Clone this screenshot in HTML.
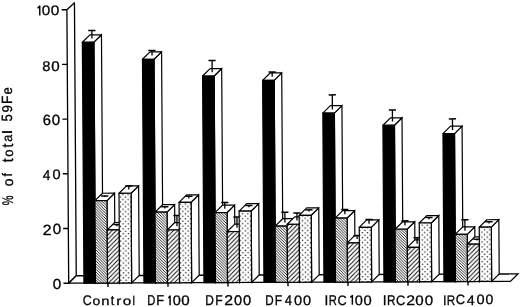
<!DOCTYPE html>
<html><head><meta charset="utf-8"><style>
html,body{margin:0;padding:0;background:#fff;width:520px;height:307px;overflow:hidden}
svg{display:block}
text{font-family:"Liberation Sans",sans-serif;fill:#000;text-rendering:geometricPrecision}
</style></head><body>
<svg width="520" height="307" viewBox="0 0 520 307">
<defs>
<pattern id="dense" patternUnits="userSpaceOnUse" width="2.75" height="2.75">
<rect width="2.75" height="2.75" fill="#fff"/>
<path d="M-1,1.75 L1,3.75 M0,0 L2.75,2.75 M1.75,-1 L3.75,1" stroke="#000" stroke-width="0.85"/>
</pattern>
<pattern id="sparse" patternUnits="userSpaceOnUse" width="4.4" height="4.4">
<rect width="4.4" height="4.4" fill="#fff"/>
<path d="M-1,1 L1,-1 M0,4.4 L4.4,0 M3.4,5.4 L5.4,3.4" stroke="#000" stroke-width="0.9"/>
</pattern>
<pattern id="dots" patternUnits="userSpaceOnUse" width="5.2" height="4.9">
<rect width="5.2" height="4.9" fill="#fff"/>
<circle cx="1.3" cy="1.2" r="0.78" fill="#222"/>
<circle cx="3.9" cy="3.65" r="0.78" fill="#222"/>
</pattern>
</defs>
<g transform="matrix(1,-0.00420,0.00660,1,-1.8691,0.2885)">
<polygon points="68.7,283.2 68.7,9.7 76.3,2.7 76.3,275.8" fill="#fff" stroke="#000" stroke-width="1.3" stroke-linejoin="round"/>
<polygon points="68.7,283.2 510.4,283.2 518,275.8 76.3,275.8" fill="#fff" stroke="#000" stroke-width="1.3" stroke-linejoin="miter"/>
<line x1="63.5" y1="283.2" x2="68.7" y2="283.2" stroke="#000" stroke-width="1.4"/>
<line x1="63.5" y1="228.5" x2="68.7" y2="228.5" stroke="#000" stroke-width="1.4"/>
<line x1="63.5" y1="173.8" x2="68.7" y2="173.8" stroke="#000" stroke-width="1.4"/>
<line x1="63.5" y1="119.1" x2="68.7" y2="119.1" stroke="#000" stroke-width="1.4"/>
<line x1="63.5" y1="64.4" x2="68.7" y2="64.4" stroke="#000" stroke-width="1.4"/>
<line x1="63.5" y1="9.7" x2="68.7" y2="9.7" stroke="#000" stroke-width="1.4"/>
<line x1="108" y1="283.2" x2="108" y2="287.1" stroke="#000" stroke-width="1.4"/>
<line x1="168" y1="283.2" x2="168" y2="287.1" stroke="#000" stroke-width="1.4"/>
<line x1="228" y1="283.2" x2="228" y2="287.1" stroke="#000" stroke-width="1.4"/>
<line x1="288" y1="283.2" x2="288" y2="287.1" stroke="#000" stroke-width="1.4"/>
<line x1="348" y1="283.2" x2="348" y2="287.1" stroke="#000" stroke-width="1.4"/>
<line x1="408" y1="283.2" x2="408" y2="287.1" stroke="#000" stroke-width="1.4"/>
<line x1="468" y1="283.2" x2="468" y2="287.1" stroke="#000" stroke-width="1.4"/>
<polygon points="95.5,283.2 95.5,42.3 103.1,34.9 103.1,275.8" fill="#fff" stroke="#000" stroke-width="1.2" stroke-linejoin="miter"/>
<polygon points="83.95,42.3 95.5,42.3 103.1,34.9 91.55,34.9" fill="#fff" stroke="#000" stroke-width="1.2" stroke-linejoin="round"/>
<polygon points="83.95,283.2 83.95,42.3 95.5,42.3 95.5,283.2" fill="#000" stroke="#000" stroke-width="1.2" stroke-linejoin="miter"/>
<line x1="93.52" y1="38.6" x2="93.52" y2="30.5" stroke="#000" stroke-width="1.3"/>
<line x1="89.92" y1="30.5" x2="97.12" y2="30.5" stroke="#000" stroke-width="1.5"/>
<polygon points="107.55,283.2 107.55,200.8 115.15,193.4 115.15,275.8" fill="#fff" stroke="#000" stroke-width="1.2" stroke-linejoin="miter"/>
<polygon points="95.5,200.8 107.55,200.8 115.15,193.4 103.1,193.4" fill="#fff" stroke="#000" stroke-width="1.2" stroke-linejoin="round"/>
<polygon points="95.5,283.2 95.5,200.8 107.55,200.8 107.55,283.2" fill="url(#dense)" stroke="#000" stroke-width="1.2" stroke-linejoin="miter"/>
<line x1="105.33" y1="197.1" x2="105.33" y2="196.2" stroke="#000" stroke-width="1.3"/>
<line x1="101.73" y1="196.2" x2="108.92" y2="196.2" stroke="#000" stroke-width="1.5"/>
<polygon points="119.6,283.2 119.6,230.1 127.2,222.7 127.2,275.8" fill="#fff" stroke="#000" stroke-width="1.2" stroke-linejoin="miter"/>
<polygon points="107.55,230.1 119.6,230.1 127.2,222.7 115.15,222.7" fill="#fff" stroke="#000" stroke-width="1.2" stroke-linejoin="round"/>
<polygon points="107.55,283.2 107.55,230.1 119.6,230.1 119.6,283.2" fill="url(#sparse)" stroke="#000" stroke-width="1.2" stroke-linejoin="miter"/>
<line x1="117.38" y1="226.4" x2="117.38" y2="224.7" stroke="#000" stroke-width="1.3"/>
<line x1="113.78" y1="224.7" x2="120.98" y2="224.7" stroke="#000" stroke-width="1.5"/>
<polygon points="131.65,283.2 131.65,193.5 139.25,186.1 139.25,275.8" fill="#fff" stroke="#000" stroke-width="1.2" stroke-linejoin="miter"/>
<polygon points="119.6,193.5 131.65,193.5 139.25,186.1 127.2,186.1" fill="#fff" stroke="#000" stroke-width="1.2" stroke-linejoin="round"/>
<polygon points="119.6,283.2 119.6,193.5 131.65,193.5 131.65,283.2" fill="url(#dots)" stroke="#000" stroke-width="1.2" stroke-linejoin="miter"/>
<line x1="129.43" y1="189.8" x2="129.43" y2="186.3" stroke="#000" stroke-width="1.3"/>
<line x1="125.83" y1="186.3" x2="133.03" y2="186.3" stroke="#000" stroke-width="1.5"/>
<polygon points="155.5,283.2 155.5,59.6 163.1,52.2 163.1,275.8" fill="#fff" stroke="#000" stroke-width="1.2" stroke-linejoin="miter"/>
<polygon points="143.95,59.6 155.5,59.6 163.1,52.2 151.55,52.2" fill="#fff" stroke="#000" stroke-width="1.2" stroke-linejoin="round"/>
<polygon points="143.95,283.2 143.95,59.6 155.5,59.6 155.5,283.2" fill="#000" stroke="#000" stroke-width="1.2" stroke-linejoin="miter"/>
<line x1="153.53" y1="55.9" x2="153.53" y2="50.9" stroke="#000" stroke-width="1.3"/>
<line x1="149.93" y1="50.9" x2="157.12" y2="50.9" stroke="#000" stroke-width="1.5"/>
<polygon points="167.55,283.2 167.55,212.5 175.15,205.1 175.15,275.8" fill="#fff" stroke="#000" stroke-width="1.2" stroke-linejoin="miter"/>
<polygon points="155.5,212.5 167.55,212.5 175.15,205.1 163.1,205.1" fill="#fff" stroke="#000" stroke-width="1.2" stroke-linejoin="round"/>
<polygon points="155.5,283.2 155.5,212.5 167.55,212.5 167.55,283.2" fill="url(#dense)" stroke="#000" stroke-width="1.2" stroke-linejoin="miter"/>
<line x1="165.32" y1="208.8" x2="165.32" y2="207.1" stroke="#000" stroke-width="1.3"/>
<line x1="161.72" y1="207.1" x2="168.92" y2="207.1" stroke="#000" stroke-width="1.5"/>
<polygon points="179.6,283.2 179.6,230.4 187.2,223 187.2,275.8" fill="#fff" stroke="#000" stroke-width="1.2" stroke-linejoin="miter"/>
<polygon points="167.55,230.4 179.6,230.4 187.2,223 175.15,223" fill="#fff" stroke="#000" stroke-width="1.2" stroke-linejoin="round"/>
<polygon points="167.55,283.2 167.55,230.4 179.6,230.4 179.6,283.2" fill="url(#sparse)" stroke="#000" stroke-width="1.2" stroke-linejoin="miter"/>
<line x1="177.38" y1="226.7" x2="177.38" y2="215.9" stroke="#000" stroke-width="1.3"/>
<line x1="173.78" y1="215.9" x2="180.97" y2="215.9" stroke="#000" stroke-width="1.5"/>
<polygon points="191.65,283.2 191.65,202.8 199.25,195.4 199.25,275.8" fill="#fff" stroke="#000" stroke-width="1.2" stroke-linejoin="miter"/>
<polygon points="179.6,202.8 191.65,202.8 199.25,195.4 187.2,195.4" fill="#fff" stroke="#000" stroke-width="1.2" stroke-linejoin="round"/>
<polygon points="179.6,283.2 179.6,202.8 191.65,202.8 191.65,283.2" fill="url(#dots)" stroke="#000" stroke-width="1.2" stroke-linejoin="miter"/>
<line x1="189.43" y1="199.1" x2="189.43" y2="196.8" stroke="#000" stroke-width="1.3"/>
<line x1="185.83" y1="196.8" x2="193.03" y2="196.8" stroke="#000" stroke-width="1.5"/>
<polygon points="215.5,283.2 215.5,76.6 223.1,69.2 223.1,275.8" fill="#fff" stroke="#000" stroke-width="1.2" stroke-linejoin="miter"/>
<polygon points="203.95,76.6 215.5,76.6 223.1,69.2 211.55,69.2" fill="#fff" stroke="#000" stroke-width="1.2" stroke-linejoin="round"/>
<polygon points="203.95,283.2 203.95,76.6 215.5,76.6 215.5,283.2" fill="#000" stroke="#000" stroke-width="1.2" stroke-linejoin="miter"/>
<line x1="213.53" y1="72.9" x2="213.53" y2="61" stroke="#000" stroke-width="1.3"/>
<line x1="209.93" y1="61" x2="217.12" y2="61" stroke="#000" stroke-width="1.5"/>
<polygon points="227.55,283.2 227.55,213.2 235.15,205.8 235.15,275.8" fill="#fff" stroke="#000" stroke-width="1.2" stroke-linejoin="miter"/>
<polygon points="215.5,213.2 227.55,213.2 235.15,205.8 223.1,205.8" fill="#fff" stroke="#000" stroke-width="1.2" stroke-linejoin="round"/>
<polygon points="215.5,283.2 215.5,213.2 227.55,213.2 227.55,283.2" fill="url(#dense)" stroke="#000" stroke-width="1.2" stroke-linejoin="miter"/>
<line x1="225.32" y1="209.5" x2="225.32" y2="203.1" stroke="#000" stroke-width="1.3"/>
<line x1="221.72" y1="203.1" x2="228.92" y2="203.1" stroke="#000" stroke-width="1.5"/>
<polygon points="239.6,283.2 239.6,232.2 247.2,224.8 247.2,275.8" fill="#fff" stroke="#000" stroke-width="1.2" stroke-linejoin="miter"/>
<polygon points="227.55,232.2 239.6,232.2 247.2,224.8 235.15,224.8" fill="#fff" stroke="#000" stroke-width="1.2" stroke-linejoin="round"/>
<polygon points="227.55,283.2 227.55,232.2 239.6,232.2 239.6,283.2" fill="url(#sparse)" stroke="#000" stroke-width="1.2" stroke-linejoin="miter"/>
<line x1="237.38" y1="228.5" x2="237.38" y2="217.7" stroke="#000" stroke-width="1.3"/>
<line x1="233.78" y1="217.7" x2="240.97" y2="217.7" stroke="#000" stroke-width="1.5"/>
<polygon points="251.65,283.2 251.65,211.8 259.25,204.4 259.25,275.8" fill="#fff" stroke="#000" stroke-width="1.2" stroke-linejoin="miter"/>
<polygon points="239.6,211.8 251.65,211.8 259.25,204.4 247.2,204.4" fill="#fff" stroke="#000" stroke-width="1.2" stroke-linejoin="round"/>
<polygon points="239.6,283.2 239.6,211.8 251.65,211.8 251.65,283.2" fill="url(#dots)" stroke="#000" stroke-width="1.2" stroke-linejoin="miter"/>
<line x1="249.43" y1="208.1" x2="249.43" y2="206.3" stroke="#000" stroke-width="1.3"/>
<line x1="245.83" y1="206.3" x2="253.03" y2="206.3" stroke="#000" stroke-width="1.5"/>
<polygon points="275.5,283.2 275.5,81.2 283.1,73.8 283.1,275.8" fill="#fff" stroke="#000" stroke-width="1.2" stroke-linejoin="miter"/>
<polygon points="263.95,81.2 275.5,81.2 283.1,73.8 271.55,73.8" fill="#fff" stroke="#000" stroke-width="1.2" stroke-linejoin="round"/>
<polygon points="263.95,283.2 263.95,81.2 275.5,81.2 275.5,283.2" fill="#000" stroke="#000" stroke-width="1.2" stroke-linejoin="miter"/>
<line x1="273.53" y1="77.5" x2="273.53" y2="72.9" stroke="#000" stroke-width="1.3"/>
<line x1="269.93" y1="72.9" x2="277.13" y2="72.9" stroke="#000" stroke-width="1.5"/>
<polygon points="287.55,283.2 287.55,227 295.15,219.6 295.15,275.8" fill="#fff" stroke="#000" stroke-width="1.2" stroke-linejoin="miter"/>
<polygon points="275.5,227 287.55,227 295.15,219.6 283.1,219.6" fill="#fff" stroke="#000" stroke-width="1.2" stroke-linejoin="round"/>
<polygon points="275.5,283.2 275.5,227 287.55,227 287.55,283.2" fill="url(#dense)" stroke="#000" stroke-width="1.2" stroke-linejoin="miter"/>
<line x1="285.32" y1="223.3" x2="285.32" y2="213.2" stroke="#000" stroke-width="1.3"/>
<line x1="281.72" y1="213.2" x2="288.93" y2="213.2" stroke="#000" stroke-width="1.5"/>
<polygon points="299.6,283.2 299.6,225.2 307.2,217.8 307.2,275.8" fill="#fff" stroke="#000" stroke-width="1.2" stroke-linejoin="miter"/>
<polygon points="287.55,225.2 299.6,225.2 307.2,217.8 295.15,217.8" fill="#fff" stroke="#000" stroke-width="1.2" stroke-linejoin="round"/>
<polygon points="287.55,283.2 287.55,225.2 299.6,225.2 299.6,283.2" fill="url(#sparse)" stroke="#000" stroke-width="1.2" stroke-linejoin="miter"/>
<line x1="297.38" y1="221.5" x2="297.38" y2="213.9" stroke="#000" stroke-width="1.3"/>
<line x1="293.78" y1="213.9" x2="300.98" y2="213.9" stroke="#000" stroke-width="1.5"/>
<polygon points="311.65,283.2 311.65,216.3 319.25,208.9 319.25,275.8" fill="#fff" stroke="#000" stroke-width="1.2" stroke-linejoin="miter"/>
<polygon points="299.6,216.3 311.65,216.3 319.25,208.9 307.2,208.9" fill="#fff" stroke="#000" stroke-width="1.2" stroke-linejoin="round"/>
<polygon points="299.6,283.2 299.6,216.3 311.65,216.3 311.65,283.2" fill="url(#dots)" stroke="#000" stroke-width="1.2" stroke-linejoin="miter"/>
<line x1="309.43" y1="212.6" x2="309.43" y2="210.9" stroke="#000" stroke-width="1.3"/>
<line x1="305.82" y1="210.9" x2="313.03" y2="210.9" stroke="#000" stroke-width="1.5"/>
<polygon points="335.5,283.2 335.5,114.2 343.1,106.8 343.1,275.8" fill="#fff" stroke="#000" stroke-width="1.2" stroke-linejoin="miter"/>
<polygon points="323.95,114.2 335.5,114.2 343.1,106.8 331.55,106.8" fill="#fff" stroke="#000" stroke-width="1.2" stroke-linejoin="round"/>
<polygon points="323.95,283.2 323.95,114.2 335.5,114.2 335.5,283.2" fill="#000" stroke="#000" stroke-width="1.2" stroke-linejoin="miter"/>
<line x1="333.53" y1="110.5" x2="333.53" y2="96" stroke="#000" stroke-width="1.3"/>
<line x1="329.93" y1="96" x2="337.13" y2="96" stroke="#000" stroke-width="1.5"/>
<polygon points="347.55,283.2 347.55,219.2 355.15,211.8 355.15,275.8" fill="#fff" stroke="#000" stroke-width="1.2" stroke-linejoin="miter"/>
<polygon points="335.5,219.2 347.55,219.2 355.15,211.8 343.1,211.8" fill="#fff" stroke="#000" stroke-width="1.2" stroke-linejoin="round"/>
<polygon points="335.5,283.2 335.5,219.2 347.55,219.2 347.55,283.2" fill="url(#dense)" stroke="#000" stroke-width="1.2" stroke-linejoin="miter"/>
<line x1="345.32" y1="215.5" x2="345.32" y2="210.6" stroke="#000" stroke-width="1.3"/>
<line x1="341.72" y1="210.6" x2="348.93" y2="210.6" stroke="#000" stroke-width="1.5"/>
<polygon points="359.6,283.2 359.6,244 367.2,236.6 367.2,275.8" fill="#fff" stroke="#000" stroke-width="1.2" stroke-linejoin="miter"/>
<polygon points="347.55,244 359.6,244 367.2,236.6 355.15,236.6" fill="#fff" stroke="#000" stroke-width="1.2" stroke-linejoin="round"/>
<polygon points="347.55,283.2 347.55,244 359.6,244 359.6,283.2" fill="url(#sparse)" stroke="#000" stroke-width="1.2" stroke-linejoin="miter"/>
<line x1="357.38" y1="240.3" x2="357.38" y2="236.9" stroke="#000" stroke-width="1.3"/>
<line x1="353.78" y1="236.9" x2="360.98" y2="236.9" stroke="#000" stroke-width="1.5"/>
<polygon points="371.65,283.2 371.65,228.6 379.25,221.2 379.25,275.8" fill="#fff" stroke="#000" stroke-width="1.2" stroke-linejoin="miter"/>
<polygon points="359.6,228.6 371.65,228.6 379.25,221.2 367.2,221.2" fill="#fff" stroke="#000" stroke-width="1.2" stroke-linejoin="round"/>
<polygon points="359.6,283.2 359.6,228.6 371.65,228.6 371.65,283.2" fill="url(#dots)" stroke="#000" stroke-width="1.2" stroke-linejoin="miter"/>
<line x1="369.43" y1="224.9" x2="369.43" y2="220.7" stroke="#000" stroke-width="1.3"/>
<line x1="365.82" y1="220.7" x2="373.03" y2="220.7" stroke="#000" stroke-width="1.5"/>
<polygon points="395.5,283.2 395.5,126.6 403.1,119.2 403.1,275.8" fill="#fff" stroke="#000" stroke-width="1.2" stroke-linejoin="miter"/>
<polygon points="383.95,126.6 395.5,126.6 403.1,119.2 391.55,119.2" fill="#fff" stroke="#000" stroke-width="1.2" stroke-linejoin="round"/>
<polygon points="383.95,283.2 383.95,126.6 395.5,126.6 395.5,283.2" fill="#000" stroke="#000" stroke-width="1.2" stroke-linejoin="miter"/>
<line x1="393.53" y1="122.9" x2="393.53" y2="111.3" stroke="#000" stroke-width="1.3"/>
<line x1="389.93" y1="111.3" x2="397.13" y2="111.3" stroke="#000" stroke-width="1.5"/>
<polygon points="407.55,283.2 407.55,230.6 415.15,223.2 415.15,275.8" fill="#fff" stroke="#000" stroke-width="1.2" stroke-linejoin="miter"/>
<polygon points="395.5,230.6 407.55,230.6 415.15,223.2 403.1,223.2" fill="#fff" stroke="#000" stroke-width="1.2" stroke-linejoin="round"/>
<polygon points="395.5,283.2 395.5,230.6 407.55,230.6 407.55,283.2" fill="url(#dense)" stroke="#000" stroke-width="1.2" stroke-linejoin="miter"/>
<line x1="405.32" y1="226.9" x2="405.32" y2="222.3" stroke="#000" stroke-width="1.3"/>
<line x1="401.72" y1="222.3" x2="408.93" y2="222.3" stroke="#000" stroke-width="1.5"/>
<polygon points="419.6,283.2 419.6,248.8 427.2,241.4 427.2,275.8" fill="#fff" stroke="#000" stroke-width="1.2" stroke-linejoin="miter"/>
<polygon points="407.55,248.8 419.6,248.8 427.2,241.4 415.15,241.4" fill="#fff" stroke="#000" stroke-width="1.2" stroke-linejoin="round"/>
<polygon points="407.55,283.2 407.55,248.8 419.6,248.8 419.6,283.2" fill="url(#sparse)" stroke="#000" stroke-width="1.2" stroke-linejoin="miter"/>
<line x1="417.38" y1="245.1" x2="417.38" y2="239.3" stroke="#000" stroke-width="1.3"/>
<line x1="413.78" y1="239.3" x2="420.98" y2="239.3" stroke="#000" stroke-width="1.5"/>
<polygon points="431.65,283.2 431.65,224.5 439.25,217.1 439.25,275.8" fill="#fff" stroke="#000" stroke-width="1.2" stroke-linejoin="miter"/>
<polygon points="419.6,224.5 431.65,224.5 439.25,217.1 427.2,217.1" fill="#fff" stroke="#000" stroke-width="1.2" stroke-linejoin="round"/>
<polygon points="419.6,283.2 419.6,224.5 431.65,224.5 431.65,283.2" fill="url(#dots)" stroke="#000" stroke-width="1.2" stroke-linejoin="miter"/>
<line x1="429.43" y1="220.8" x2="429.43" y2="219.1" stroke="#000" stroke-width="1.3"/>
<line x1="425.82" y1="219.1" x2="433.03" y2="219.1" stroke="#000" stroke-width="1.5"/>
<polygon points="455.5,283.2 455.5,135.2 463.1,127.8 463.1,275.8" fill="#fff" stroke="#000" stroke-width="1.2" stroke-linejoin="miter"/>
<polygon points="443.95,135.2 455.5,135.2 463.1,127.8 451.55,127.8" fill="#fff" stroke="#000" stroke-width="1.2" stroke-linejoin="round"/>
<polygon points="443.95,283.2 443.95,135.2 455.5,135.2 455.5,283.2" fill="#000" stroke="#000" stroke-width="1.2" stroke-linejoin="miter"/>
<line x1="453.53" y1="131.5" x2="453.53" y2="120.5" stroke="#000" stroke-width="1.3"/>
<line x1="449.93" y1="120.5" x2="457.13" y2="120.5" stroke="#000" stroke-width="1.5"/>
<polygon points="467.55,283.2 467.55,236 475.15,228.6 475.15,275.8" fill="#fff" stroke="#000" stroke-width="1.2" stroke-linejoin="miter"/>
<polygon points="455.5,236 467.55,236 475.15,228.6 463.1,228.6" fill="#fff" stroke="#000" stroke-width="1.2" stroke-linejoin="round"/>
<polygon points="455.5,283.2 455.5,236 467.55,236 467.55,283.2" fill="url(#dense)" stroke="#000" stroke-width="1.2" stroke-linejoin="miter"/>
<line x1="465.32" y1="232.3" x2="465.32" y2="221.4" stroke="#000" stroke-width="1.3"/>
<line x1="461.72" y1="221.4" x2="468.93" y2="221.4" stroke="#000" stroke-width="1.5"/>
<polygon points="479.6,283.2 479.6,245.9 487.2,238.5 487.2,275.8" fill="#fff" stroke="#000" stroke-width="1.2" stroke-linejoin="miter"/>
<polygon points="467.55,245.9 479.6,245.9 487.2,238.5 475.15,238.5" fill="#fff" stroke="#000" stroke-width="1.2" stroke-linejoin="round"/>
<polygon points="467.55,283.2 467.55,245.9 479.6,245.9 479.6,283.2" fill="url(#sparse)" stroke="#000" stroke-width="1.2" stroke-linejoin="miter"/>
<line x1="477.38" y1="242.2" x2="477.38" y2="240.9" stroke="#000" stroke-width="1.3"/>
<line x1="473.78" y1="240.9" x2="480.98" y2="240.9" stroke="#000" stroke-width="1.5"/>
<polygon points="491.65,283.2 491.65,228.9 499.25,221.5 499.25,275.8" fill="#fff" stroke="#000" stroke-width="1.2" stroke-linejoin="miter"/>
<polygon points="479.6,228.9 491.65,228.9 499.25,221.5 487.2,221.5" fill="#fff" stroke="#000" stroke-width="1.2" stroke-linejoin="round"/>
<polygon points="479.6,283.2 479.6,228.9 491.65,228.9 491.65,283.2" fill="url(#dots)" stroke="#000" stroke-width="1.2" stroke-linejoin="miter"/>
<line x1="489.43" y1="225.2" x2="489.43" y2="223.6" stroke="#000" stroke-width="1.3"/>
<line x1="485.82" y1="223.6" x2="493.03" y2="223.6" stroke="#000" stroke-width="1.5"/>
</g>
<g style="opacity:0.999" stroke="#000" stroke-width="2.2" stroke-linejoin="round">
<path d="M39.77,5.60 V15.40 M40.07,5.90 L37.60,8.20" fill="none" stroke="#000" stroke-width="1.45" stroke-linecap="butt"/>
<text transform="matrix(0.15158,0,0,0.13803,41.644,15.262)" font-size="100">0</text>
<text transform="matrix(0.15368,0,0,0.13803,50.735,15.262)" font-size="100">0</text>
<text transform="matrix(0.14681,0,0,0.14085,42.189,70.559)" font-size="100">8</text>
<text transform="matrix(0.15158,0,0,0.14085,51.344,70.559)" font-size="100">0</text>
<text transform="matrix(0.14783,0,0,0.14648,42.711,125.354)" font-size="100">6</text>
<text transform="matrix(0.15158,0,0,0.14648,51.644,125.354)" font-size="100">0</text>
<text transform="matrix(0.13800,0,0,0.14203,42.805,179.500)" font-size="100">4</text>
<text transform="matrix(0.14526,0,0,0.13803,52.469,179.362)" font-size="100">0</text>
<text transform="matrix(0.15824,0,0,0.14857,42.859,234.500)" font-size="100">2</text>
<text transform="matrix(0.15158,0,0,0.14648,52.744,234.354)" font-size="100">0</text>
<text transform="matrix(0.15368,0,0,0.14507,52.835,289.055)" font-size="100">0</text>
<text transform="matrix(0.12381,0,0,0.14085,82.731,305.459)" font-size="100">C</text>
<text transform="matrix(0.13895,0,0,0.12182,92.594,305.478)" font-size="100">o</text>
<text transform="matrix(0.14824,0,0,0.12037,101.286,305.300)" font-size="100">n</text>
<text transform="matrix(0.12549,0,0,0.13740,110.662,305.463)" font-size="100">t</text>
<text transform="matrix(0.15200,0,0,0.12037,116.162,305.300)" font-size="100">r</text>
<text transform="matrix(0.15368,0,0,0.12182,122.735,305.478)" font-size="100">o</text>
<text transform="matrix(0.11111,0,0,0.12690,132.528,305.300)" font-size="100">l</text>
<text transform="matrix(0.11261,0,0,0.14203,147.349,305.200)" font-size="100">D</text>
<text transform="matrix(0.12857,0,0,0.14203,156.321,305.200)" font-size="100">F</text>
<path d="M170.08,295.40 V305.20 M170.38,295.70 L168.30,298.00" fill="none" stroke="#000" stroke-width="1.45" stroke-linecap="butt"/>
<text transform="matrix(0.14526,0,0,0.13803,172.669,305.062)" font-size="100">0</text>
<text transform="matrix(0.15158,0,0,0.13803,181.244,305.062)" font-size="100">0</text>
<text transform="matrix(0.11933,0,0,0.14348,205.295,305.300)" font-size="100">D</text>
<text transform="matrix(0.12245,0,0,0.14348,215.270,305.300)" font-size="100">F</text>
<text transform="matrix(0.15824,0,0,0.14143,224.259,305.300)" font-size="100">2</text>
<text transform="matrix(0.14526,0,0,0.13944,233.969,305.161)" font-size="100">0</text>
<text transform="matrix(0.14737,0,0,0.13944,242.961,305.161)" font-size="100">0</text>
<text transform="matrix(0.11597,0,0,0.14058,265.322,305.100)" font-size="100">D</text>
<text transform="matrix(0.12245,0,0,0.14058,274.870,305.100)" font-size="100">F</text>
<text transform="matrix(0.13200,0,0,0.14058,284.720,305.100)" font-size="100">4</text>
<text transform="matrix(0.14526,0,0,0.13662,293.969,304.963)" font-size="100">0</text>
<text transform="matrix(0.14526,0,0,0.13662,302.969,304.963)" font-size="100">0</text>
<text transform="matrix(0.13684,0,0,0.14058,324.518,304.700)" font-size="100">I</text>
<text transform="matrix(0.11186,0,0,0.14058,328.755,304.700)" font-size="100">R</text>
<text transform="matrix(0.12698,0,0,0.13662,337.415,304.563)" font-size="100">C</text>
<path d="M352.38,295.00 V304.70 M352.68,295.30 L350.30,297.60" fill="none" stroke="#000" stroke-width="1.45" stroke-linecap="butt"/>
<text transform="matrix(0.14526,0,0,0.13662,354.669,304.563)" font-size="100">0</text>
<text transform="matrix(0.14737,0,0,0.13662,363.561,304.563)" font-size="100">0</text>
<text transform="matrix(0.13684,0,0,0.14058,382.818,304.700)" font-size="100">I</text>
<text transform="matrix(0.11695,0,0,0.14058,387.114,304.700)" font-size="100">R</text>
<text transform="matrix(0.12857,0,0,0.13662,396.107,304.563)" font-size="100">C</text>
<text transform="matrix(0.15824,0,0,0.13857,406.259,304.700)" font-size="100">2</text>
<text transform="matrix(0.15158,0,0,0.13662,415.344,304.563)" font-size="100">0</text>
<text transform="matrix(0.15158,0,0,0.13662,424.644,304.563)" font-size="100">0</text>
<text transform="matrix(0.12632,0,0,0.13913,442.913,304.500)" font-size="100">I</text>
<text transform="matrix(0.11695,0,0,0.13913,446.814,304.500)" font-size="100">R</text>
<text transform="matrix(0.12857,0,0,0.13521,455.807,304.365)" font-size="100">C</text>
<text transform="matrix(0.14400,0,0,0.13913,466.690,304.500)" font-size="100">4</text>
<text transform="matrix(0.14526,0,0,0.13521,476.569,304.365)" font-size="100">0</text>
<text transform="matrix(0.14105,0,0,0.13521,485.486,304.365)" font-size="100">0</text>
<text transform="matrix(0,-0.10976,0.15286,0,12.824,205.184)" font-size="100">&#37;</text>
<text transform="matrix(0,-0.13895,0.14182,0,12.758,186.156)" font-size="100">o</text>
<text transform="matrix(0,-0.12453,0.13931,0,12.100,176.487)" font-size="100">f</text>
<text transform="matrix(0,-0.14118,0.15878,0,12.741,162.312)" font-size="100">t</text>
<text transform="matrix(0,-0.12842,0.13636,0,12.764,156.814)" font-size="100">o</text>
<text transform="matrix(0,-0.14118,0.15878,0,12.741,147.612)" font-size="100">t</text>
<text transform="matrix(0,-0.12745,0.13818,0,12.462,141.774)" font-size="100">a</text>
<text transform="matrix(0,-0.20000,0.13655,0,12.000,134.300)" font-size="100">l</text>
<text transform="matrix(0,-0.13053,0.14857,0,12.251,121.422)" font-size="100">5</text>
<text transform="matrix(0,-0.13333,0.14085,0,11.859,112.400)" font-size="100">9</text>
<text transform="matrix(0,-0.13673,0.14783,0,12.200,104.094)" font-size="100">F</text>
<text transform="matrix(0,-0.13118,0.14364,0,12.456,94.490)" font-size="100">e</text>
</g>
</svg>
</body></html>
